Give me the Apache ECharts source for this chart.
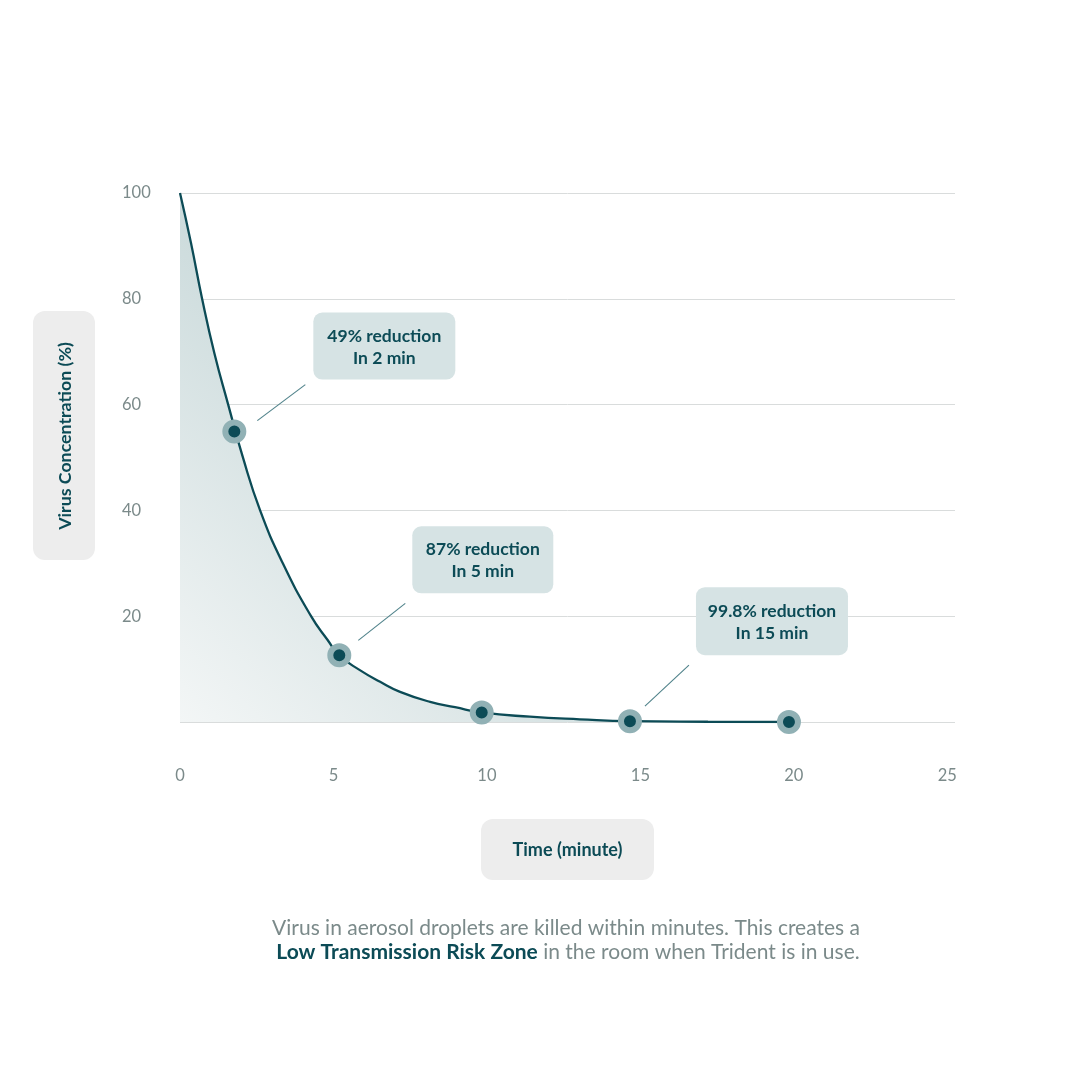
<!DOCTYPE html>
<html>
<head>
<meta charset="utf-8">
<script src="https://cdn.jsdelivr.net/npm/echarts@6/dist/echarts.min.js"></script>
<style>
html,body{margin:0;padding:0;background:#fff;}
#c{width:1080px;height:1080px;}
</style>
</head>
<body>
<div id="c"></div>
<script>
// ---- data ----
const curveX = [0, 0.36, 0.72, 1.12, 1.57, 2.04, 2.61, 3.35, 4.27, 4.81, 5.19, 5.86, 6.52, 7.17, 8.15, 8.96, 9.83, 11.4, 13.03, 14.66, 17.2, 19.84];
const curveY = [100, 90.5, 80, 69.7, 60, 50.2, 40, 30, 20, 15.5, 12.6, 9.8, 7.6, 5.7, 3.8, 2.8, 1.8, 1.0, 0.5, 0.15, 0.05, 0];
const pointX = [1.77, 5.19, 9.83, 14.66, 19.84];
const pointY = [54.9, 12.6, 1.8, 0.15, 0];
const xTicks = [0, 5, 10, 15, 20, 25];
const yTicks = [0, 20, 40, 60, 80, 100];
const annoText = [["49% reduction", "In 2 min"], ["87% reduction", "In 5 min"], ["99.8% reduction", "In 15 min"]];
const annoPoint = [0, 1, 3];
const xTitle = "Time (minute)";
const yTitle = "Virus Concentration (%)";
const captionLine1 = "Virus in aerosol droplets are killed within minutes. This creates a";
const captionBold = "Low Transmission Risk Zone";
const captionRest = " in the room when Trident is in use.";

const TEAL = '#0c4b56';
const GREY = '#7b8a8a';
const FONT = 'Lato, "Noto Sans", sans-serif';

const chart = echarts.init(document.getElementById('c'), null, {renderer: 'canvas'});

const option = {
  backgroundColor: '#ffffff',
  animation: false,
  grid: {left: 180, right: 125, top: 193, bottom: 358},
  xAxis: {
    type: 'value', min: 0, max: 25.25,
    axisLine: {show: false}, axisTick: {show: false}, splitLine: {show: false},
    axisLabel: {customValues: xTicks, color: GREY, fontSize: 16.5, fontFamily: FONT, margin: 45,
      formatter: v => String(Math.round(v))}
  },
  yAxis: {
    type: 'value', min: 0, max: 100, interval: 20,
    axisLine: {show: false}, axisTick: {show: false},
    splitLine: {lineStyle: {color: '#d9dcdc', width: 1}},
    axisLabel: {color: GREY, fontSize: 16.5, fontFamily: FONT, align: 'left', margin: 58,
      padding: [0, 0, 11, 0],
      formatter: v => (v === 0 ? '' : String(v))}
  },
  series: [
    {
      type: 'line', smooth: 0.5, symbol: 'none',
      data: curveX.map((x, i) => [x, curveY[i]]),
      lineStyle: {color: TEAL, width: 2.3},
      areaStyle: {
        opacity: 1,
        color: new echarts.graphic.LinearGradient(0, 1, 0.45, 0.45, [
          {offset: 0, color: '#f3f6f6'},
          {offset: 1, color: '#c9d9da'}
        ])
      },
      z: 2
    },
    {
      type: 'scatter', symbol: 'circle', symbolSize: 18,
      data: pointX.map((x, i) => [x, pointY[i]]),
      itemStyle: {color: TEAL, borderColor: '#91b1b5', borderWidth: 6, opacity: 1},
      z: 3
    }
  ]
};
chart.setOption(option);

// annotation layout (offsets from the point they describe)
const annoLayout = [
  {dx: 79, dy: -119, w: 142, h: 67, l1: [23, -11], l2: [71, -47]},
  {dx: 73, dy: -129, w: 141, h: 67, l1: [19, -15], l2: [66, -52]},
  {dx: 66, dy: -134, w: 152, h: 68, l1: [15, -15], l2: [59, -56]}
];

const graphics = [];
annoText.forEach((lines, i) => {
  const p = chart.convertToPixel({seriesIndex: 1}, [pointX[annoPoint[i]], pointY[annoPoint[i]]]);
  const L = annoLayout[i];
  const bx = p[0] + L.dx, by = p[1] + L.dy;
  graphics.push({
    type: 'rect', shape: {x: bx, y: by, width: L.w, height: L.h, r: 9},
    style: {fill: '#d6e3e4'}, z: 10
  });
  graphics.push({
    type: 'text', x: bx + L.w / 2, y: by + L.h / 2 + 1, z: 11,
    style: {text: lines.join('\n'), align: 'center', verticalAlign: 'middle',
      font: 'bold 17.5px ' + FONT, fill: TEAL, lineHeight: 22}
  });
  graphics.push({
    type: 'line', z: 10,
    shape: {x1: p[0] + L.l1[0], y1: p[1] + L.l1[1], x2: p[0] + L.l2[0], y2: p[1] + L.l2[1]},
    style: {stroke: '#4f828a', lineWidth: 1.1}
  });
});

// y axis title box
graphics.push({type: 'rect', shape: {x: 33, y: 311, width: 62, height: 249, r: 12}, style: {fill: '#ededed'}, z: 5});
graphics.push({type: 'text', x: 65, y: 436, rotation: Math.PI / 2, z: 6,
  style: {text: yTitle, align: 'center', verticalAlign: 'middle', font: 'bold 17.8px ' + FONT, fill: TEAL}});
// x axis title box
graphics.push({type: 'rect', shape: {x: 481, y: 819, width: 173, height: 61, r: 12}, style: {fill: '#ededed'}, z: 5});
graphics.push({type: 'text', x: 567.5, y: 850, z: 6,
  style: {text: xTitle, align: 'center', verticalAlign: 'middle', font: 'bold 18px ' + FONT, fill: TEAL}});

// caption
graphics.push({type: 'text', x: 566, y: 928, z: 6,
  style: {text: captionLine1, align: 'center', verticalAlign: 'middle', font: '21px ' + FONT, fill: GREY}});
graphics.push({type: 'text', x: 568, y: 952, z: 6,
  style: {text: '{b|' + captionBold + '}{n|' + captionRest + '}', align: 'center', verticalAlign: 'middle',
    rich: {
      b: {fill: TEAL, fontSize: 21, fontWeight: 'bold', fontFamily: FONT},
      n: {fill: GREY, fontSize: 21, fontFamily: FONT}
    }}});

chart.setOption({graphic: graphics});
</script>
</body>
</html>
